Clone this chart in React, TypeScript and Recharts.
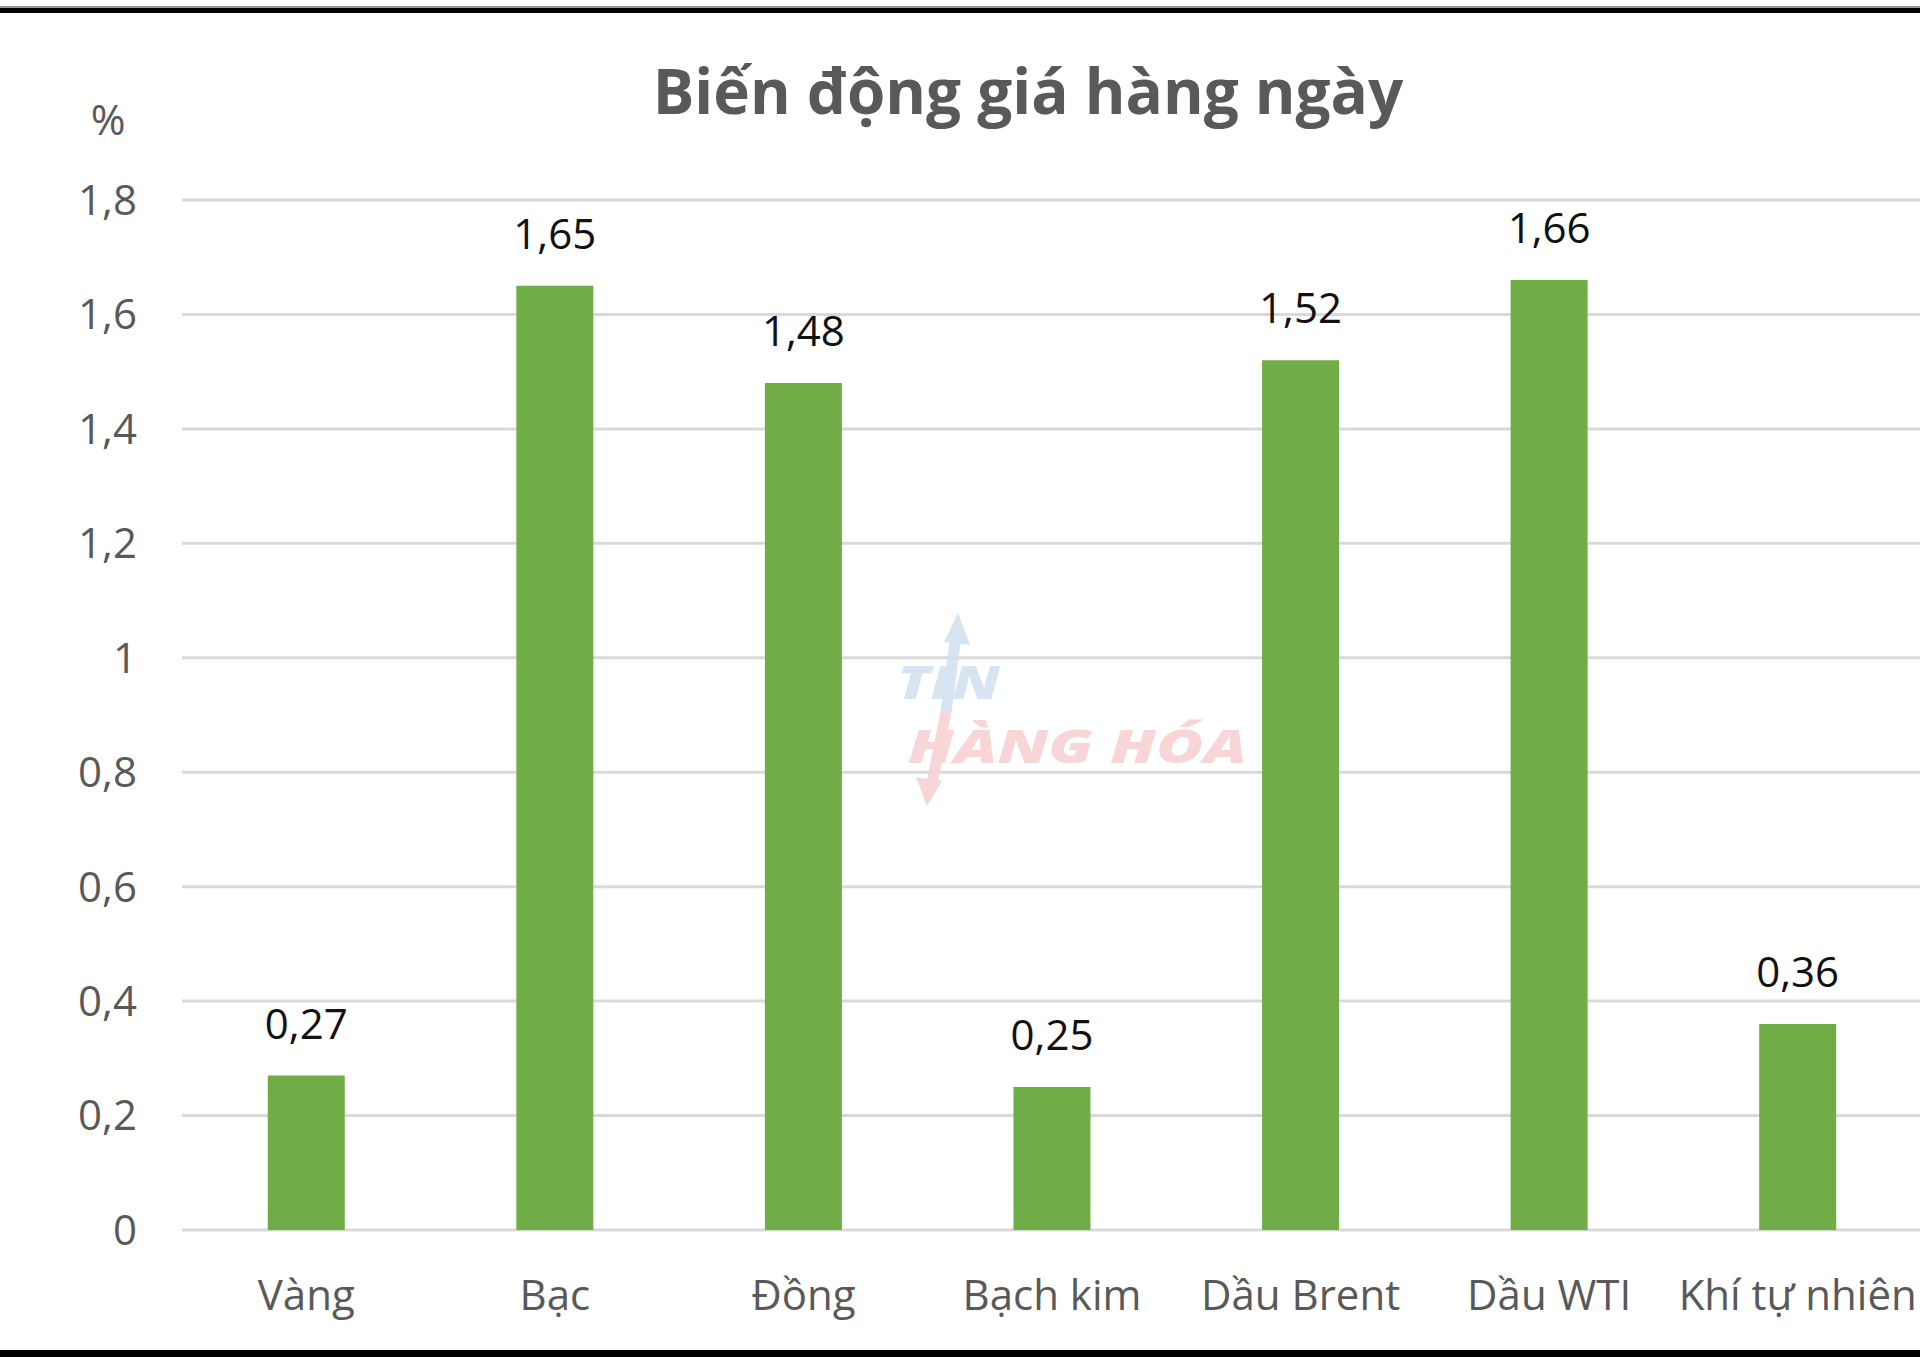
import { BarChart, Bar, XAxis, YAxis, CartesianGrid, LabelList } from 'recharts'

const CATEGORIES = ['Vàng', 'Bạc', 'Đồng', 'Bạch kim', 'Dầu Brent', 'Dầu WTI', 'Khí tự nhiên']
const CHANGES = [0.27, 1.65, 1.48, 0.25, 1.52, 1.66, 0.36]
const Y_TICKS = [0, 0.2, 0.4, 0.6, 0.8, 1, 1.2, 1.4, 1.6, 1.8]

const TITLE = 'Biến động giá hàng ngày'
const UNIT = '%'

const data = CATEGORIES.map((ten, i) => ({ ten, bienDong: CHANGES[i] }))

const FONT = '"Open Sans", "Noto Sans", sans-serif'
const fmt = (v: number) => String(v).replace('.', ',')

export default function App() {
  return (
    <div style={{ position: 'absolute', left: 0, top: 0, width: 1920, height: 1357, overflow: 'hidden', background: '#fff', fontFamily: FONT }}>
      <BarChart
        width={1922}
        height={1357}
        data={data}
        margin={{ top: 200, right: 0, bottom: 0, left: 0 }}
        barCategoryGap="34.5%"
      >
        <CartesianGrid vertical={false} stroke="#d9d9d9" strokeWidth={3} />
        <XAxis
          dataKey="ten"
          height={127}
          interval={0}
          axisLine={false}
          tickLine={false}
          tickSize={0}
          tickMargin={50}
          tick={{ fontSize: 42, fill: '#595959', fontFamily: FONT }}
        />
        <YAxis
          width={182}
          domain={[0, 1.8]}
          ticks={Y_TICKS}
          axisLine={false}
          tickLine={false}
          tickSize={0}
          tickMargin={45}
          tickFormatter={fmt}
          tick={{ fontSize: 42, fill: '#595959', fontFamily: FONT }}
        />
        <Bar dataKey="bienDong" fill="#70ad47" isAnimationActive={false}>
          <LabelList
            dataKey="bienDong"
            position="top"
            offset={37}
            formatter={(v: number) => fmt(v)}
            style={{ fontSize: 42, fill: '#111', fontFamily: FONT }}
          />
        </Bar>
      </BarChart>

      {/* tiêu đề, đơn vị, logo mờ, viền */}
      <svg width={1920} height={1357} style={{ position: 'absolute', left: 0, top: 0, pointerEvents: 'none' }}>
        <text x={1028} y={114} textAnchor="middle" fontSize={62} fontWeight={700} fill="#595959" fontFamily={FONT}>
          {TITLE}
        </text>
        <text x={108} y={135} textAnchor="middle" fontSize={42} fill="#595959" fontFamily={FONT}>
          {UNIT}
        </text>

        <g opacity={0.9}>
          <line x1={956} y1={635} x2={946} y2={712} stroke="#d3e2f1" strokeWidth={11} />
          <line x1={946} y1={712} x2={931} y2={788} stroke="#f8d2d3" strokeWidth={11} />
          <polygon points="958,613 944,642 970,645" fill="#d3e2f1" />
          <polygon points="927,806 916,777 942,781" fill="#f8d2d3" />
          <text x={897} y={699} textLength={103} lengthAdjust="spacingAndGlyphs" fontSize={46} fontWeight={800} fontStyle="italic" fill="#d3e2f1" fontFamily={FONT}>
            TIN
          </text>
          <text x={908} y={763} textLength={339} lengthAdjust="spacingAndGlyphs" fontSize={46} fontWeight={800} fontStyle="italic" fill="#f8d2d3" fontFamily={FONT}>
            HÀNG HÓA
          </text>
        </g>

        <rect x={0} y={6} width={1920} height={2} fill="#9a9a9a" />
        <rect x={0} y={8} width={1920} height={5} fill="#000" />
        <rect x={0} y={1350} width={1920} height={7} fill="#000" />
      </svg>
    </div>
  )
}
